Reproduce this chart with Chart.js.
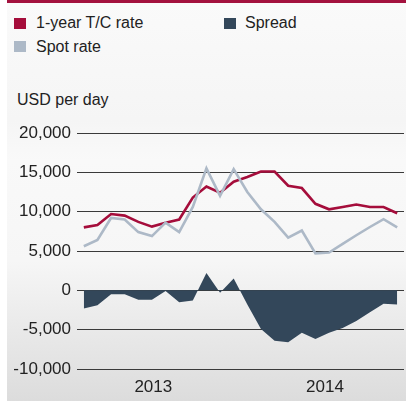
<!DOCTYPE html>
<html>
<head>
<meta charset="utf-8">
<script src="https://cdn.jsdelivr.net/npm/chart.js@4/dist/chart.umd.min.js"></script>
<style>
  html, body { margin: 0; padding: 0; background: #ffffff; }
  #wrap { position: relative; width: 406px; height: 401px; overflow: hidden; font-family: "Liberation Sans", Arial, sans-serif; color: #222; }
  #panel { position: absolute; left: 7px; top: 0; width: 399px; height: 401px;
    background: linear-gradient(to bottom, #fafafa 0%, #f5f5f5 30%, #f9f9f9 40%, #f6f6f6 65%, #dcdcdc 100%); }
  #bar { position: absolute; left: 7px; top: 0; width: 399px; height: 3px; background: #a3123e; }
  .lg { position: absolute; font-size: 16px; line-height: 20px; white-space: nowrap; }
  .sw { position: absolute; width: 12px; height: 11px; }
  #c { position: absolute; left: 0; top: 0; }
</style>
</head>
<body>
<div id="wrap">
  <div id="panel"></div>
  <div id="bar"></div>
  <div class="sw" style="left:14px;top:18px;background:#a50d3b"></div>
  <div class="lg" style="left:36px;top:13px">1-year T/C rate</div>
  <div class="sw" style="left:224px;top:18px;background:#33475a"></div>
  <div class="lg" style="left:245px;top:13px">Spread</div>
  <div class="sw" style="left:14px;top:41px;background:#adb9c7"></div>
  <div class="lg" style="left:36px;top:37px">Spot rate</div>
  <div class="lg" style="left:17px;top:90px">USD per day</div>
  <canvas id="c" width="406" height="401"></canvas>
</div>
<script>
// Monthly observations, Jan 2013 .. Dec 2014 (index 0..23)
const months = [0,1,2,3,4,5,6,7,8,9,10,11,12,13,14,15,16,17,18,19,20,21,22,23];
const tcRate = [8000,8300,9700,9500,8700,8100,8600,9000,11800,13200,12400,13800,14400,15100,15100,13300,13000,11000,10300,10600,10900,10600,10600,9800];
const spotRate = [5600,6400,9200,9000,7400,6900,8600,7400,10600,15500,12000,15400,12500,10300,8700,6700,7600,4700,4800,5900,7000,8050,9050,8000];
const spread = [-2300,-1900,-500,-500,-1200,-1200,-100,-1500,-1300,2200,-300,1500,-1800,-4900,-6400,-6600,-5400,-6200,-5400,-4800,-3900,-2800,-1700,-1800];
const yearLabels = ["2013", "2014"];
const yearPositions = [5.1, 17.7];
const yTicks = [-10000,-5000,0,5000,10000,15000,20000];

const pts = arr => arr.map((v, i) => ({x: months[i], y: v}));

new Chart(document.getElementById('c'), {
  type: 'line',
  data: {
    datasets: [
      { label: 'Spot rate', data: pts(spotRate), borderColor: '#adb9c7', borderWidth: 2.6, pointRadius: 0, tension: 0, fill: false, order: 0 },
      { label: '1-year T/C rate', data: pts(tcRate), borderColor: '#a50d3b', borderWidth: 2.6, pointRadius: 0, tension: 0, fill: false, order: 1 },
      { label: 'Spread', data: pts(spread), borderColor: '#33475a', borderWidth: 0, backgroundColor: '#33475a', pointRadius: 0, tension: 0, fill: 'origin', order: 2 }
    ]
  },
  options: {
    responsive: false,
    animation: false,
    events: [],
    layout: { padding: { top: 133, bottom: 0, left: 0, right: 2 } },
    plugins: { legend: { display: false }, tooltip: { enabled: false } },
    scales: {
      x: {
        type: 'linear', min: -0.5, max: 23.5,
        grid: { display: false, drawTicks: false },
        border: { display: false },
        afterBuildTicks: s => { s.ticks = yearPositions.map(v => ({value: v})); },
        afterFit: s => { s.height = 32; },
        ticks: {
          autoSkip: false, maxRotation: 0, padding: 8,
          font: { family: '"Liberation Sans", Arial, sans-serif', size: 17 },
          color: '#222',
          callback: (v, i) => yearLabels[i]
        }
      },
      y: {
        min: -10000, max: 20000,
        afterBuildTicks: s => { s.ticks = yTicks.map(v => ({value: v})); },
        afterFit: s => { s.width = 77; },
        grid: { color: '#3a3a3a', lineWidth: 1, drawTicks: false },
        border: { display: false },
        ticks: {
          padding: 6,
          font: { family: '"Liberation Sans", Arial, sans-serif', size: 17 },
          color: '#222',
          callback: v => v.toLocaleString('en-US')
        }
      }
    }
  }
});
</script>
</body>
</html>
